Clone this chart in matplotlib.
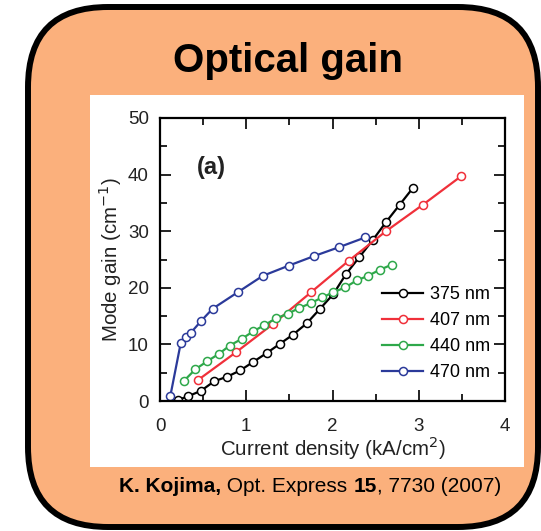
import matplotlib
matplotlib.use("Agg")
import matplotlib.pyplot as plt
from matplotlib.patches import FancyBboxPatch, Rectangle
from matplotlib.ticker import MultipleLocator

plt.rcParams['font.family'] = ['Liberation Sans', 'DejaVu Sans']

# gain curves, current density in kA/cm^2, mode gain in 1/cm
j_375 = [0.21, 0.32, 0.475, 0.63, 0.78, 0.93, 1.08, 1.24, 1.39, 1.54,
         1.70, 1.85, 2.01, 2.16, 2.31, 2.47, 2.62, 2.78, 2.93]
g_375 = [0.2, 0.8, 1.8, 3.5, 4.3, 5.4, 6.9, 8.5, 10.1, 11.7,
         13.7, 16.2, 18.9, 22.5, 25.4, 28.5, 31.6, 34.7, 37.6]

j_407 = [0.44, 0.88, 1.31, 1.75, 2.19, 2.62, 3.05, 3.49]
g_407 = [3.7, 8.6, 13.6, 19.2, 24.8, 30.0, 34.7, 39.7]

j_440 = [0.28, 0.41, 0.545, 0.68, 0.81, 0.95, 1.08, 1.21, 1.345, 1.48,
         1.61, 1.75, 1.88, 2.01, 2.15, 2.28, 2.41, 2.55, 2.69]
g_440 = [3.6, 5.6, 7.0, 8.3, 9.8, 11.0, 12.3, 13.4, 14.6, 15.4,
         16.4, 17.3, 18.3, 19.2, 20.1, 21.3, 22.1, 23.2, 24.1]

j_470 = [0.12, 0.24, 0.305, 0.36, 0.48, 0.61, 0.90, 1.19, 1.49, 1.785, 2.08, 2.38]
g_470 = [0.9, 10.2, 11.3, 12.1, 14.2, 16.3, 19.2, 22.1, 23.9, 25.6, 27.2, 28.9]

series = [
    ("375 nm", j_375, g_375, "black"),
    ("407 nm", j_407, g_407, "#f0303a"),
    ("440 nm", j_440, g_440, "#2ea84a"),
    ("470 nm", j_470, g_470, "#2b3a9a"),
]

W, H = 541, 531
fig = plt.figure(figsize=(W / 100, H / 100), dpi=100)

# background panel in pixel coordinates
bg = fig.add_axes([0, 0, 1, 1])
bg.set_xlim(0, W)
bg.set_ylim(H, 0)
bg.axis("off")
bg.add_patch(FancyBboxPatch((28, 7), 510, 520,
                            boxstyle="round,pad=0,rounding_size=80",
                            facecolor="#fbb07c", edgecolor="black", linewidth=4.3))
bg.add_patch(Rectangle((90, 95), 434, 372, facecolor="white", edgecolor="none"))
bg.text(288, 61, "Optical gain", ha="center", va="center",
        fontsize=29, fontweight="bold")

# citation line, mixed bold/regular pieces laid out left to right
pieces = [("K. Kojima,", "bold"), (" Opt. Express ", "normal"),
          ("15", "bold"), (", 7730 (2007)", "normal")]
renderer = fig.canvas.get_renderer()
texts = []
for s, w in pieces:
    t = bg.text(0, 486, s, ha="left", va="center", fontsize=15, fontweight=w)
    texts.append(t)
widths = [t.get_window_extent(renderer).width for t in texts]
x = 310 - sum(widths) / 2
for t, w in zip(texts, widths):
    t.set_x(x)
    x += w

ax = fig.add_axes([160 / W, 1 - 401 / H, 345 / W, 283 / H])
for label, j, g, c in series:
    ax.plot(j, g, "-o", color=c, lw=1.6, ms=5.8, mfc="white", mec=c, mew=1.1,
            label=label)

ax.set_xlim(0, 4)
ax.set_ylim(0, 50)
ax.xaxis.set_major_locator(MultipleLocator(1))
ax.xaxis.set_minor_locator(MultipleLocator(0.5))
ax.yaxis.set_major_locator(MultipleLocator(10))
ax.yaxis.set_minor_locator(MultipleLocator(5))
ax.tick_params(which="both", direction="in", top=True, right=True,
               width=1.4, labelsize=13.5, colors="#222222")
ax.tick_params(axis="x", pad=12)
ax.tick_params(axis="y", pad=8)
ax.tick_params(which="major", length=8)
ax.tick_params(which="minor", length=5)
for sp in ax.spines.values():
    sp.set_linewidth(1.6)

ax.set_xlabel("Current density (kA/cm$^2$)", fontsize=14.8, labelpad=0,
              color="#222222")
ax.set_ylabel("Mode gain (cm$^{-1}$)", fontsize=14.8, labelpad=3,
              color="#222222")
ax.text(0.6, 41.3, "(a)", ha="center", va="center", fontsize=17,
        fontweight="bold", color="#222222")

leg = ax.legend(loc="upper left", frameon=False, fontsize=13,
                handlelength=2.3, handletextpad=0.35, labelspacing=0.5,
                borderpad=0, borderaxespad=0,
                bbox_to_anchor=(0.643, 0.405))

fig.savefig("out.png", dpi=100)
